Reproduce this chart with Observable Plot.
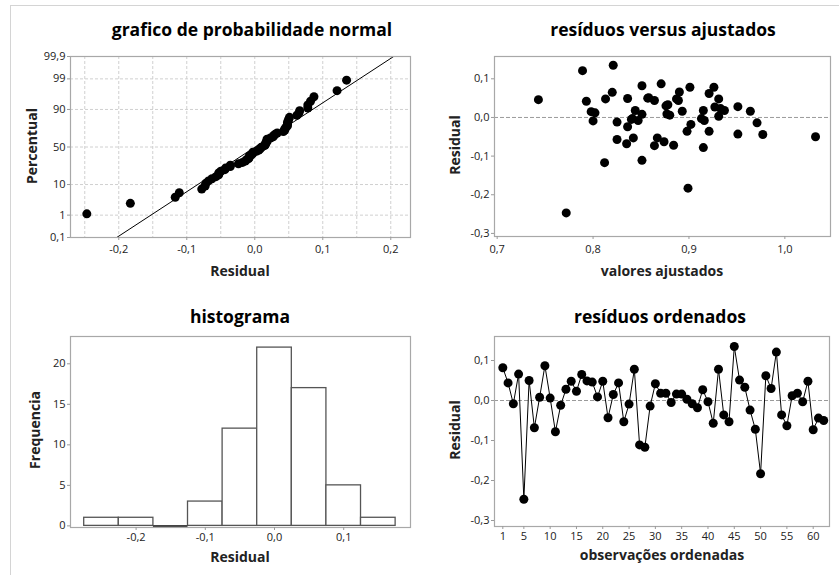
<!DOCTYPE html>
<html>
<head>
<meta charset="utf-8">
<script src="https://cdn.jsdelivr.net/npm/d3@7"></script>
<script src="https://cdn.jsdelivr.net/npm/@observablehq/plot@0.6"></script>
<style>
  html, body { margin: 0; padding: 0; background: #fff; }
  #fig { position: relative; width: 839px; height: 575px; overflow: hidden; background: #fff; font-family: "Open Sans", "Noto Sans", sans-serif; }
  .border { position: absolute; left: 10px; top: 5px; width: 1000px; height: 1000px; border-left: 1px solid #d4d4d4; border-top: 1px solid #d4d4d4; }
  .title { position: absolute; transform: translate(-50%, -50%); font-weight: bold; font-size: 17.5px; color: #000; white-space: nowrap; line-height: 1; }
  .alab { position: absolute; transform: translate(-50%, -50%); font-weight: bold; font-size: 14px; color: #222; white-space: nowrap; line-height: 1; }
  .ylab { position: absolute; transform: translate(-50%, -50%) rotate(-90deg); font-weight: bold; font-size: 14px; color: #222; white-space: nowrap; line-height: 1; }
</style>
</head>
<body>
<div id="fig"><div class="border"></div></div>
<script>
// ---- data ----
const residuals = [0.082, 0.044, -0.008, 0.066, -0.247, 0.050, -0.068, 0.008, 0.087, 0.006,
  -0.078, -0.012, 0.028, 0.048, 0.023, 0.065, 0.049, 0.046, 0.009, 0.048,
  -0.043, 0.015, 0.044, -0.053, -0.009, 0.078, -0.111, -0.117, -0.014, 0.042,
  0.018, 0.018, -0.005, 0.016, 0.016, 0.003, -0.008, -0.018, 0.027, -0.003,
  -0.057, 0.078, -0.036, -0.053, 0.135, 0.051, 0.033, -0.024, -0.072, -0.183,
  0.062, 0.030, 0.121, -0.036, -0.063, 0.012, 0.018, -0.003, 0.048, -0.073,
  -0.044, -0.050];
const fitted = [0.851, 0.864, 0.847, 0.890, 0.772, 0.857, 0.835, 0.851, 0.871, 0.880,
  0.915, 0.825, 0.951, 0.887, 0.933, 0.820, 0.836, 0.743, 0.877, 0.813,
  0.951, 0.798, 0.889, 0.842, 0.800, 0.901, 0.851, 0.812, 0.971, 0.793,
  0.844, 0.915, 0.840, 0.893, 0.964, 0.931, 0.916, 0.902, 0.927, 0.913,
  0.825, 0.926, 0.921, 0.867, 0.821, 0.858, 0.878, 0.836, 0.884, 0.899,
  0.921, 0.876, 0.789, 0.898, 0.874, 0.802, 0.937, 0.841, 0.931, 0.864,
  0.977, 1.032];
const pctTicks = [0.1, 1, 10, 50, 90, 99, 99.9];
const pctGrid = [1, 10, 50, 90, 99];
const probXTicks = [-0.2, -0.1, 0.0, 0.1, 0.2];
const probXGrid = [-0.25, -0.2, -0.15, -0.1, -0.05, 0, 0.05, 0.1, 0.15, 0.2];
const fitXTicks = [0.7, 0.8, 0.9, 1.0];
const residTicks = [-0.3, -0.2, -0.1, 0.0, 0.1];
const binEdges = [-0.275, -0.225, -0.175, -0.125, -0.075, -0.025, 0.025, 0.075, 0.125, 0.175];
const histXTicks = [-0.2, -0.1, 0.0, 0.1];
const freqTicks = [0, 5, 10, 15, 20];
const orderTicks = [1, 5, 10, 15, 20, 25, 30, 35, 40, 45, 50, 55, 60];

// ---- helpers ----
function probit(p) {
  const a = [-3.969683028665376e+01, 2.209460984245205e+02, -2.759285104469687e+02, 1.383577518672690e+02, -3.066479806614716e+01, 2.506628277459239e+00];
  const b = [-5.447609879822406e+01, 1.615858368580409e+02, -1.556989798598866e+02, 6.680131188771972e+01, -1.328068155288572e+01];
  const c = [-7.784894002430293e-03, -3.223964580411365e-01, -2.400758277161838e+00, -2.549732539343734e+00, 4.374664141464968e+00, 2.938163982698783e+00];
  const d = [7.784695709041462e-03, 3.224671290700398e-01, 2.445134137142996e+00, 3.754408661907416e+00];
  const pl = 0.02425, ph = 1 - pl;
  let q, r;
  if (p < pl) { q = Math.sqrt(-2 * Math.log(p)); return (((((c[0]*q+c[1])*q+c[2])*q+c[3])*q+c[4])*q+c[5]) / ((((d[0]*q+d[1])*q+d[2])*q+d[3])*q+1); }
  if (p > ph) { q = Math.sqrt(-2 * Math.log(1 - p)); return -(((((c[0]*q+c[1])*q+c[2])*q+c[3])*q+c[4])*q+c[5]) / ((((d[0]*q+d[1])*q+d[2])*q+d[3])*q+1); }
  q = p - 0.5; r = q * q;
  return (((((a[0]*r+a[1])*r+a[2])*r+a[3])*r+a[4])*r+a[5])*q / (((((b[0]*r+b[1])*r+b[2])*r+b[3])*r+b[4])*r+1);
}
const fmt1 = v => v.toFixed(1).replace(".", ",");
const fmtPct = v => String(v).replace(".", ",");

const fig = document.getElementById("fig");
function addText(cls, txt, x, y) {
  const el = document.createElement("div");
  el.className = cls; el.textContent = txt;
  el.style.left = x + "px"; el.style.top = y + "px";
  fig.appendChild(el);
}
const tickStyle = { tickSize: 3, stroke: "#9a9a9a", fill: "#222", fontSize: 11, label: null };
function panel(box, opts) {
  const mL = 55, mR = 8, mT = 8, mB = 24;
  const svg = Plot.plot({
    width: box.x1 - box.x0 + mL + mR,
    height: box.y1 - box.y0 + mT + mB,
    marginLeft: mL, marginRight: mR, marginTop: mT, marginBottom: mB,
    style: { fontFamily: "'Open Sans', 'Noto Sans', sans-serif", fontSize: "11px", color: "#222", background: "transparent", overflow: "visible" },
    ...opts
  });
  svg.style.position = "absolute";
  svg.style.left = (box.x0 - mL) + "px";
  svg.style.top = (box.y0 - mT) + "px";
  fig.appendChild(svg);
}
const frame = Plot.frame({ stroke: "#a8a8a8", strokeWidth: 1.2 });

// ---- panel 1: normal probability plot ----
const n = residuals.length;
const sorted = residuals.slice().sort((a, b) => a - b);
const probData = sorted.map((r, i) => ({ r, z: probit((i + 1 - 0.3) / (n + 0.4)) }));
const mean = d3.mean(residuals), sd = d3.deviation(residuals);
const zLo = probit(pctTicks[0] / 100), zHi = probit(pctTicks[pctTicks.length - 1] / 100);
const fitLine = [zLo, zHi].map(z => ({ z, r: mean + sd * z }));
panel({ x0: 70, y0: 56, x1: 410, y1: 237 }, {
  x: { domain: [-0.271, 0.229] },
  y: { domain: [zLo, zHi] },
  marks: [
    Plot.gridX(probXGrid, { stroke: "#d0d0d0", strokeOpacity: 1, strokeDasharray: "3,2" }),
    Plot.gridY(pctGrid.map(p => probit(p / 100)), { stroke: "#d0d0d0", strokeOpacity: 1, strokeDasharray: "3,2" }),
    Plot.line(fitLine, { x: "r", y: "z", stroke: "#000", strokeWidth: 1, clip: true }),
    Plot.dot(probData, { x: "r", y: "z", r: 4.5, fill: "#000", stroke: "none" }),
    frame,
    Plot.axisX({ ...tickStyle, ticks: probXTicks, tickFormat: fmt1, tickPadding: 5 }),
    Plot.axisY({ ...tickStyle, ticks: pctTicks.map(p => probit(p / 100)), tickFormat: (z, i) => fmtPct(pctTicks[i]), tickPadding: 2 })
  ]
});
addText("title", "grafico de probabilidade normal", 252, 30);
addText("alab", "Residual", 240, 271);
addText("ylab", "Percentual", 32, 146);

// ---- panel 2: residuals versus fits ----
const fitData = fitted.map((f, i) => ({ f, r: residuals[i] }));
panel({ x0: 494, y0: 56, x1: 830, y1: 236 }, {
  x: { domain: [0.6972, 1.0476] },
  y: { domain: [-0.308, 0.1577] },
  marks: [
    Plot.ruleY([0], { stroke: "#9a9a9a", strokeDasharray: "4,2", strokeWidth: 1 }),
    Plot.dot(fitData, { x: "f", y: "r", r: 4.5, fill: "#000", stroke: "none" }),
    frame,
    Plot.axisX({ ...tickStyle, ticks: fitXTicks, tickFormat: fmt1, tickPadding: 6 }),
    Plot.axisY({ ...tickStyle, ticks: residTicks, tickFormat: fmt1, tickPadding: 2 })
  ]
});
addText("title", "resíduos versus ajustados", 663, 30);
addText("alab", "valores ajustados", 662, 271);
addText("ylab", "Residual", 455, 145);

// ---- panel 3: histogram ----
const bins = d3.bin().domain([binEdges[0], binEdges[binEdges.length - 1]]).thresholds(binEdges)(residuals)
  .map(b => ({ lo: b.x0, hi: b.x1, count: b.length }));
panel({ x0: 70, y0: 336, x1: 410, y1: 527 }, {
  x: { domain: [-0.2948, 0.1965] },
  y: { domain: [-0.2, 23.37] },
  marks: [
    Plot.rectY(bins, { x1: "lo", x2: "hi", y1: 0, y2: "count", fill: "#fff", stroke: "#555", strokeWidth: 1.3 }),
    Plot.ruleY(bins.filter(b => b.count === 0), { x1: "lo", x2: "hi", y: "count", stroke: "#444", strokeWidth: 2 }),
    frame,
    Plot.axisX({ ...tickStyle, ticks: histXTicks, tickFormat: fmt1, tickPadding: 3 }),
    Plot.axisY({ ...tickStyle, ticks: freqTicks, tickFormat: d => String(d), tickPadding: 2 })
  ]
});
addText("title", "histograma", 240, 317);
addText("alab", "Residual", 240, 557);
addText("ylab", "Frequencia", 35, 430);

// ---- panel 4: residuals versus order ----
const orderData = residuals.map((r, i) => ({ i: i + 1, r }));
panel({ x0: 494, y0: 336, x1: 829, y1: 526 }, {
  x: { domain: [-0.58, 63.1] },
  y: { domain: [-0.315, 0.16] },
  marks: [
    Plot.ruleY([0], { stroke: "#9a9a9a", strokeDasharray: "4,2", strokeWidth: 1 }),
    Plot.line(orderData, { x: "i", y: "r", stroke: "#000", strokeWidth: 1 }),
    Plot.dot(orderData, { x: "i", y: "r", r: 4.5, fill: "#000", stroke: "none" }),
    frame,
    Plot.axisX({ ...tickStyle, ticks: orderTicks, tickFormat: d => String(d), tickPadding: 3 }),
    Plot.axisY({ ...tickStyle, ticks: residTicks, tickFormat: fmt1, tickPadding: 2 })
  ]
});
addText("title", "resíduos ordenados", 660, 317);
addText("alab", "observações ordenadas", 662, 555);
addText("ylab", "Residual", 455, 430);
</script>
</body>
</html>
